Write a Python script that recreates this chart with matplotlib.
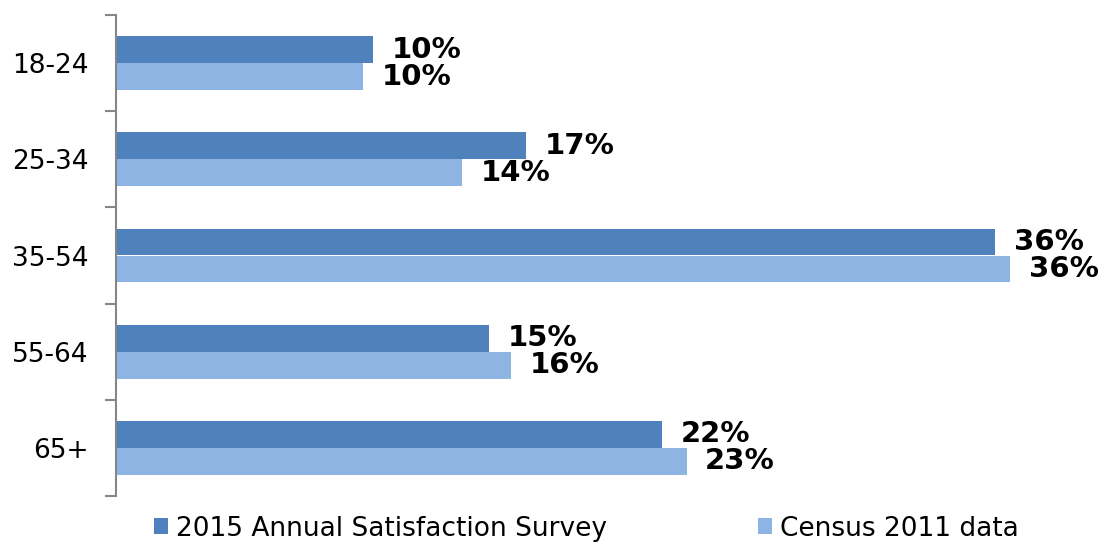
import numpy as np
import matplotlib.pyplot as plt

# age bands and share of respondents (%) for each data source
age_groups = ['18-24', '25-34', '35-54', '55-64', '65+']
survey_2015 = [10.4, 16.6, 35.6, 15.1, 22.1]
census_2011 = [10.0, 14.0, 36.2, 16.0, 23.1]
series_names = ['2015 Annual Satisfaction Survey', 'Census 2011 data']

dark_blue = '#4F81BD'
light_blue = '#8EB4E3'

fig = plt.figure(figsize=(10.98, 5.46), dpi=100)
ax = fig.add_axes([116 / 1098, 50 / 546, 1 - 116 / 1098, 481 / 546])

y = np.arange(len(age_groups))
h = 0.28
b1 = ax.barh(y - h / 2, survey_2015, height=h, color=dark_blue, label=series_names[0])
b2 = ax.barh(y + h / 2, census_2011, height=h, color=light_blue, label=series_names[1])

# value labels next to each bar
for bars, vals in ((b1, survey_2015), (b2, census_2011)):
    for bar, v in zip(bars, vals):
        ax.text(v + 0.75, bar.get_y() + bar.get_height() / 2, f'{v:.0f}%',
                va='center', ha='left', fontsize=21, fontweight='bold')

ax.set_xlim(0, 982 / 24.7)
ax.set_ylim(len(age_groups) - 0.5, -0.5)

# category labels centred, ticks on the group boundaries
ax.set_yticks(y)
ax.set_yticklabels(age_groups, fontsize=19)
ax.tick_params(axis='y', which='major', length=0, pad=19.5)
ax.set_yticks(np.arange(len(age_groups) + 1) - 0.5, minor=True)
ax.tick_params(axis='y', which='minor', length=8, width=1.5, color='#868686')
ax.set_xticks([])

for side in ('top', 'right', 'bottom'):
    ax.spines[side].set_visible(False)
ax.spines['left'].set_color('#868686')
ax.spines['left'].set_linewidth(1.5)

fig.legend(loc='center', bbox_to_anchor=(0.534, 0.032), ncol=2, frameon=False,
           fontsize=19, handlelength=0.55, handleheight=0.55, handletextpad=0.3,
           columnspacing=5.7)

fig.savefig('out.png', dpi=100)
